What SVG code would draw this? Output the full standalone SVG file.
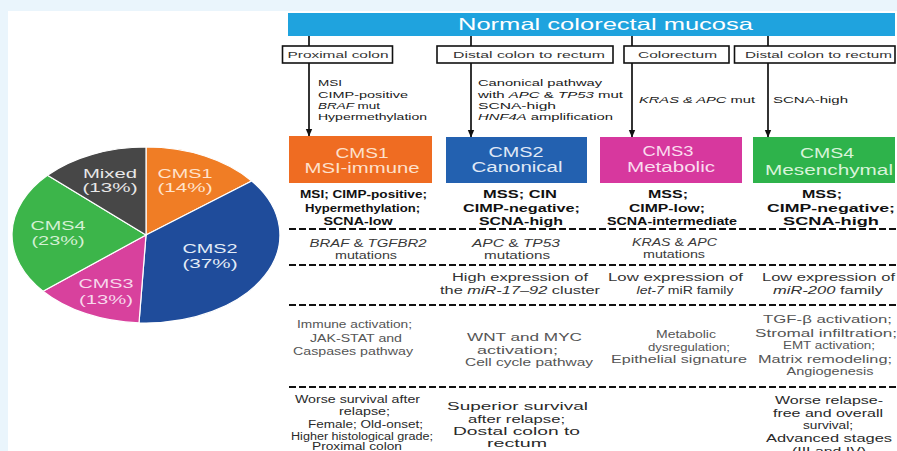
<svg xmlns="http://www.w3.org/2000/svg" width="897" height="451" viewBox="0 0 897 451">
<style>
text { font-family: "Liberation Sans", Arial, sans-serif; }
.hdr { font-size: 16.5px; fill: #ffffff; }
.loc { font-size: 9px; fill: #333333; }
.ft { font-size: 9.5px; fill: #1a1a1a; }
.cmst { font-size: 14px; text-anchor: middle; }
.r1 { font-size: 10.5px; fill: #111111; font-weight: bold; text-anchor: middle; }
.r2 { font-size: 10px; fill: #3a3a3a; text-anchor: middle; }
.r3 { font-size: 10px; fill: #333333; text-anchor: middle; }
.r4 { font-size: 10px; fill: #555555; text-anchor: middle; }
.r5 { font-size: 10px; fill: #2a2a2a; text-anchor: middle; }
.r5b { font-size: 11px; fill: #2a2a2a; text-anchor: middle; }
.pl { font-size: 12.5px; text-anchor: middle; }
.i { font-style: italic; }
.locbox { fill: #ffffff; stroke: #111111; stroke-width: 1.6; }
.conn { stroke: #111111; stroke-width: 1.7; fill: none; }
.dash { stroke: #111111; stroke-width: 2; stroke-dasharray: 7 3; fill: none; }
.slice { stroke: #ffffff; stroke-width: 1.2; }
</style>
<defs>
<marker id="arr" markerUnits="userSpaceOnUse" markerWidth="8" markerHeight="8" viewBox="0 0 8 8" refX="7" refY="4" orient="auto">
<path d="M0,0.8 L7.5,4 L0,7.2 Z" fill="#111111"/>
</marker>
</defs>
<rect x="0" y="0" width="897" height="451" fill="#eaf5fc"/>
<rect x="8" y="11" width="889" height="440" fill="#ffffff"/>

<g id="pie">
<g id="pie-cms1"><path class="slice" fill="#f07d25" d="M146,235 L146,147 A134,88 0 0 1 251.7,181 Z"/>
<text class="pl" fill="#ffe3cc" x="185" y="177.5" textLength="55" lengthAdjust="spacingAndGlyphs">CMS1</text>
<text class="pl" fill="#ffe3cc" x="185" y="192" textLength="55" lengthAdjust="spacingAndGlyphs">(14%)</text></g>
<g id="pie-cms2"><path class="slice" fill="#1f4c9b" d="M146,235 L251.7,181 A134,88 0 0 1 139,322.9 Z"/>
<text class="pl" fill="#e4ecf7" x="210" y="253" textLength="55" lengthAdjust="spacingAndGlyphs">CMS2</text>
<text class="pl" fill="#e4ecf7" x="210" y="268" textLength="55" lengthAdjust="spacingAndGlyphs">(37%)</text></g>
<g id="pie-cms3"><path class="slice" fill="#d8419d" d="M146,235 L139,322.9 A134,88 0 0 1 43,291.2 Z"/>
<text class="pl" fill="#f7d8ec" x="106" y="288" textLength="55" lengthAdjust="spacingAndGlyphs">CMS3</text>
<text class="pl" fill="#f7d8ec" x="106" y="304" textLength="54" lengthAdjust="spacingAndGlyphs">(13%)</text></g>
<g id="pie-cms4"><path class="slice" fill="#3cb54a" d="M146,235 L43,291.2 A134,88 0 0 1 47.5,175.3 Z"/>
<text class="pl" fill="#d4f0d4" x="58" y="230" textLength="55" lengthAdjust="spacingAndGlyphs">CMS4</text>
<text class="pl" fill="#d4f0d4" x="58" y="245" textLength="53" lengthAdjust="spacingAndGlyphs">(23%)</text></g>
<g id="pie-mixed"><path class="slice" fill="#474747" d="M146,235 L47.5,175.3 A134,88 0 0 1 146,147 Z"/>
<text class="pl" fill="#e8e8e8" x="110" y="177.5" textLength="54" lengthAdjust="spacingAndGlyphs">Mixed</text>
<text class="pl" fill="#e8e8e8" x="110" y="192" textLength="55" lengthAdjust="spacingAndGlyphs">(13%)</text></g>
</g>

<g id="header">
<rect x="288" y="13" width="607" height="23" fill="#1fa3de"/>
<text class="hdr" x="458" y="30" textLength="295" lengthAdjust="spacingAndGlyphs">Normal colorectal mucosa</text>
</g>

<g id="loc1"><rect class="locbox" x="282.5" y="46" width="110" height="17"/>
<text class="loc" x="287.5" y="57.5" textLength="101" lengthAdjust="spacingAndGlyphs">Proximal colon</text></g>
<g id="loc2"><rect class="locbox" x="437" y="46" width="176" height="17"/>
<text class="loc" x="453" y="57.5" textLength="152" lengthAdjust="spacingAndGlyphs">Distal colon to rectum</text></g>
<g id="loc3"><rect class="locbox" x="624" y="46" width="105" height="17"/>
<text class="loc" x="638" y="57.5" textLength="79" lengthAdjust="spacingAndGlyphs">Colorectum</text></g>
<g id="loc4"><rect class="locbox" x="734.5" y="46" width="160.5" height="17"/>
<text class="loc" x="745" y="57.5" textLength="147" lengthAdjust="spacingAndGlyphs">Distal colon to rectum</text></g>

<g id="connectors">
<line class="conn" x1="309" y1="36" x2="309" y2="46"/>
<line class="conn" x1="309" y1="63" x2="309" y2="136" marker-end="url(#arr)"/>
<line class="conn" x1="471" y1="36" x2="471" y2="46"/>
<line class="conn" x1="471" y1="63" x2="471" y2="137" marker-end="url(#arr)"/>
<line class="conn" x1="632" y1="36" x2="632" y2="46"/>
<line class="conn" x1="632" y1="63" x2="632" y2="137" marker-end="url(#arr)"/>
<line class="conn" x1="768" y1="36" x2="768" y2="46"/>
<line class="conn" x1="768" y1="63" x2="768" y2="137" marker-end="url(#arr)"/>
</g>

<g id="features">
<text class="ft" x="318" y="86" textLength="24" lengthAdjust="spacingAndGlyphs">MSI</text>
<text class="ft" x="318" y="97.5" textLength="90" lengthAdjust="spacingAndGlyphs">CIMP-positive</text>
<text class="ft" x="318" y="108.5" textLength="62" lengthAdjust="spacingAndGlyphs"><tspan class="i">BRAF</tspan> mut</text>
<text class="ft" x="318" y="119.5" textLength="109" lengthAdjust="spacingAndGlyphs">Hypermethylation</text>
<text class="ft" x="478" y="86" textLength="124" lengthAdjust="spacingAndGlyphs">Canonical pathway</text>
<text class="ft" x="478" y="97.5" textLength="145" lengthAdjust="spacingAndGlyphs">with <tspan class="i">APC</tspan> &amp; <tspan class="i">TP53</tspan> mut</text>
<text class="ft" x="478" y="108.5" textLength="78" lengthAdjust="spacingAndGlyphs">SCNA-high</text>
<text class="ft" x="478" y="119.5" textLength="135" lengthAdjust="spacingAndGlyphs"><tspan class="i">HNF4A</tspan> amplification</text>
<text class="ft" x="639" y="103" textLength="116" lengthAdjust="spacingAndGlyphs"><tspan class="i">KRAS &amp; APC</tspan> mut</text>
<text class="ft" x="773" y="103" textLength="75" lengthAdjust="spacingAndGlyphs">SCNA-high</text>
</g>

<g id="cms1"><rect x="289" y="136" width="143" height="47" fill="#ef6c22"/>
<text class="cmst" fill="#fde0cc" x="362" y="157.5" textLength="53" lengthAdjust="spacingAndGlyphs">CMS1</text>
<text class="cmst" fill="#fde0cc" x="362" y="173" textLength="115" lengthAdjust="spacingAndGlyphs">MSI-immune</text></g>
<g id="cms2"><rect x="446" y="137" width="141" height="46" fill="#2361b0"/>
<text class="cmst" fill="#e0e9f6" x="516" y="156.5" textLength="55" lengthAdjust="spacingAndGlyphs">CMS2</text>
<text class="cmst" fill="#e0e9f6" x="517" y="172" textLength="91" lengthAdjust="spacingAndGlyphs">Canonical</text></g>
<g id="cms3"><rect x="600" y="137" width="142" height="46" fill="#d7389e"/>
<text class="cmst" fill="#fadcee" x="668" y="156" textLength="51" lengthAdjust="spacingAndGlyphs">CMS3</text>
<text class="cmst" fill="#fadcee" x="671" y="172" textLength="88" lengthAdjust="spacingAndGlyphs">Metabolic</text></g>
<g id="cms4"><rect x="753" y="137" width="142" height="46" fill="#2eb34b"/>
<text class="cmst" fill="#d9f3da" x="827" y="158" textLength="54" lengthAdjust="spacingAndGlyphs">CMS4</text>
<text class="cmst" fill="#d9f3da" x="829" y="175" textLength="128" lengthAdjust="spacingAndGlyphs">Mesenchymal</text></g>

<g id="dividers">
<line class="dash" x1="289" y1="229" x2="897" y2="229"/>
<line class="dash" x1="289" y1="265" x2="897" y2="265"/>
<line class="dash" x1="289" y1="305" x2="897" y2="305"/>
<line class="dash" x1="289" y1="387" x2="897" y2="387"/>
</g>

<g id="row-status">
<text class="r1" x="363.5" y="198" textLength="127" lengthAdjust="spacingAndGlyphs">MSI; CIMP-positive;</text>
<text class="r1" x="362.5" y="211.5" textLength="115" lengthAdjust="spacingAndGlyphs">Hypermethylation;</text>
<text class="r1" x="358" y="225" textLength="69" lengthAdjust="spacingAndGlyphs">SCNA-low</text>
<text class="r1" x="520" y="198" textLength="74" lengthAdjust="spacingAndGlyphs">MSS; CIN</text>
<text class="r1" x="521.5" y="211.5" textLength="117" lengthAdjust="spacingAndGlyphs">CIMP-negative;</text>
<text class="r1" x="521" y="225" textLength="84" lengthAdjust="spacingAndGlyphs">SCNA-high</text>
<text class="r1" x="668" y="198" textLength="40" lengthAdjust="spacingAndGlyphs">MSS;</text>
<text class="r1" x="667" y="211.5" textLength="76" lengthAdjust="spacingAndGlyphs">CIMP-low;</text>
<text class="r1" x="672" y="225" textLength="130" lengthAdjust="spacingAndGlyphs">SCNA-intermediate</text>
<text class="r1" x="822" y="198" textLength="40" lengthAdjust="spacingAndGlyphs">MSS;</text>
<text class="r1" x="831" y="211.5" textLength="128" lengthAdjust="spacingAndGlyphs">CIMP-negative;</text>
<text class="r1" x="831" y="225" textLength="96" lengthAdjust="spacingAndGlyphs">SCNA-high</text>
</g>

<g id="row-mutations">
<text class="r2" x="368" y="246.5" textLength="117" lengthAdjust="spacingAndGlyphs"><tspan class="i">BRAF</tspan> &amp; <tspan class="i">TGFBR2</tspan></text>
<text class="r2" x="366" y="258.5" textLength="62" lengthAdjust="spacingAndGlyphs">mutations</text>
<text class="r2" x="516" y="246.5" textLength="88" lengthAdjust="spacingAndGlyphs"><tspan class="i">APC</tspan> &amp; <tspan class="i">TP53</tspan></text>
<text class="r2" x="517" y="258.5" textLength="66" lengthAdjust="spacingAndGlyphs">mutations</text>
<text class="r2" x="674.5" y="246" textLength="85" lengthAdjust="spacingAndGlyphs"><tspan class="i">KRAS</tspan> &amp; <tspan class="i">APC</tspan></text>
<text class="r2" x="674" y="258" textLength="62" lengthAdjust="spacingAndGlyphs">mutations</text>
</g>

<g id="row-mirna">
<text class="r3" x="520" y="281" textLength="136" lengthAdjust="spacingAndGlyphs">High expression of</text>
<text class="r3" x="520" y="293.5" textLength="160" lengthAdjust="spacingAndGlyphs">the <tspan class="i">miR-17–92</tspan> cluster</text>
<text class="r3" x="675.5" y="281" textLength="135" lengthAdjust="spacingAndGlyphs">Low expression of</text>
<text class="r3" x="685" y="293.5" textLength="97" lengthAdjust="spacingAndGlyphs"><tspan class="i">let-7</tspan> miR family</text>
<text class="r3" x="828.5" y="281" textLength="133" lengthAdjust="spacingAndGlyphs">Low expression of</text>
<text class="r3" x="828" y="293.5" textLength="110" lengthAdjust="spacingAndGlyphs"><tspan class="i">miR-200</tspan> family</text>
</g>

<g id="row-pathways">
<text class="r4" x="354.5" y="328" textLength="115" lengthAdjust="spacingAndGlyphs">Immune activation;</text>
<text class="r4" x="356" y="341.5" textLength="92" lengthAdjust="spacingAndGlyphs">JAK-STAT and</text>
<text class="r4" x="353" y="355" textLength="120" lengthAdjust="spacingAndGlyphs">Caspases pathway</text>
<text class="r4" x="524.5" y="341" textLength="115" lengthAdjust="spacingAndGlyphs">WNT and MYC</text>
<text class="r4" x="517.5" y="354" textLength="81" lengthAdjust="spacingAndGlyphs">activation;</text>
<text class="r4" x="529" y="366" textLength="128" lengthAdjust="spacingAndGlyphs">Cell cycle pathway</text>
<text class="r4" x="686" y="338" textLength="60" lengthAdjust="spacingAndGlyphs">Metabolic</text>
<text class="r4" x="689" y="350.5" textLength="82" lengthAdjust="spacingAndGlyphs">dysregulation;</text>
<text class="r4" x="679" y="363" textLength="136" lengthAdjust="spacingAndGlyphs">Epithelial signature</text>
<text class="r4" x="827.5" y="323" textLength="129" lengthAdjust="spacingAndGlyphs">TGF-β activation;</text>
<text class="r4" x="826" y="336.5" textLength="142" lengthAdjust="spacingAndGlyphs">Stromal infiltration;</text>
<text class="r4" x="829" y="349.3" textLength="92" lengthAdjust="spacingAndGlyphs">EMT activation;</text>
<text class="r4" x="825" y="362.5" textLength="134" lengthAdjust="spacingAndGlyphs">Matrix remodeling;</text>
<text class="r4" x="830" y="375" textLength="87" lengthAdjust="spacingAndGlyphs">Angiogenesis</text>
</g>

<g id="row-clinical">
<text class="r5" x="357.5" y="403" textLength="125" lengthAdjust="spacingAndGlyphs">Worse survival after</text>
<text class="r5" x="364.5" y="415" textLength="51" lengthAdjust="spacingAndGlyphs">relapse;</text>
<text class="r5" x="365.5" y="427.5" textLength="115" lengthAdjust="spacingAndGlyphs">Female; Old-onset;</text>
<text class="r5" x="362" y="439.5" textLength="142" lengthAdjust="spacingAndGlyphs">Higher histological grade;</text>
<text class="r5" x="357" y="450" textLength="90" lengthAdjust="spacingAndGlyphs">Proximal colon</text>
<text class="r5b" x="517.5" y="410" textLength="141" lengthAdjust="spacingAndGlyphs">Superior survival</text>
<text class="r5b" x="516.5" y="422.5" textLength="97" lengthAdjust="spacingAndGlyphs">after relapse;</text>
<text class="r5b" x="516.5" y="435" textLength="127" lengthAdjust="spacingAndGlyphs">Dostal colon to</text>
<text class="r5b" x="517" y="447" textLength="60" lengthAdjust="spacingAndGlyphs">rectum</text>
<text class="r5b" x="829" y="404" textLength="108" lengthAdjust="spacingAndGlyphs">Worse relapse-</text>
<text class="r5b" x="828" y="416.5" textLength="110" lengthAdjust="spacingAndGlyphs">free and overall</text>
<text class="r5b" x="828" y="429" textLength="50" lengthAdjust="spacingAndGlyphs">survival;</text>
<text class="r5b" x="829" y="441.5" textLength="126" lengthAdjust="spacingAndGlyphs">Advanced stages</text>
<text class="r5b" x="829" y="455" textLength="74" lengthAdjust="spacingAndGlyphs">(III and IV)</text>
</g>
</svg>
